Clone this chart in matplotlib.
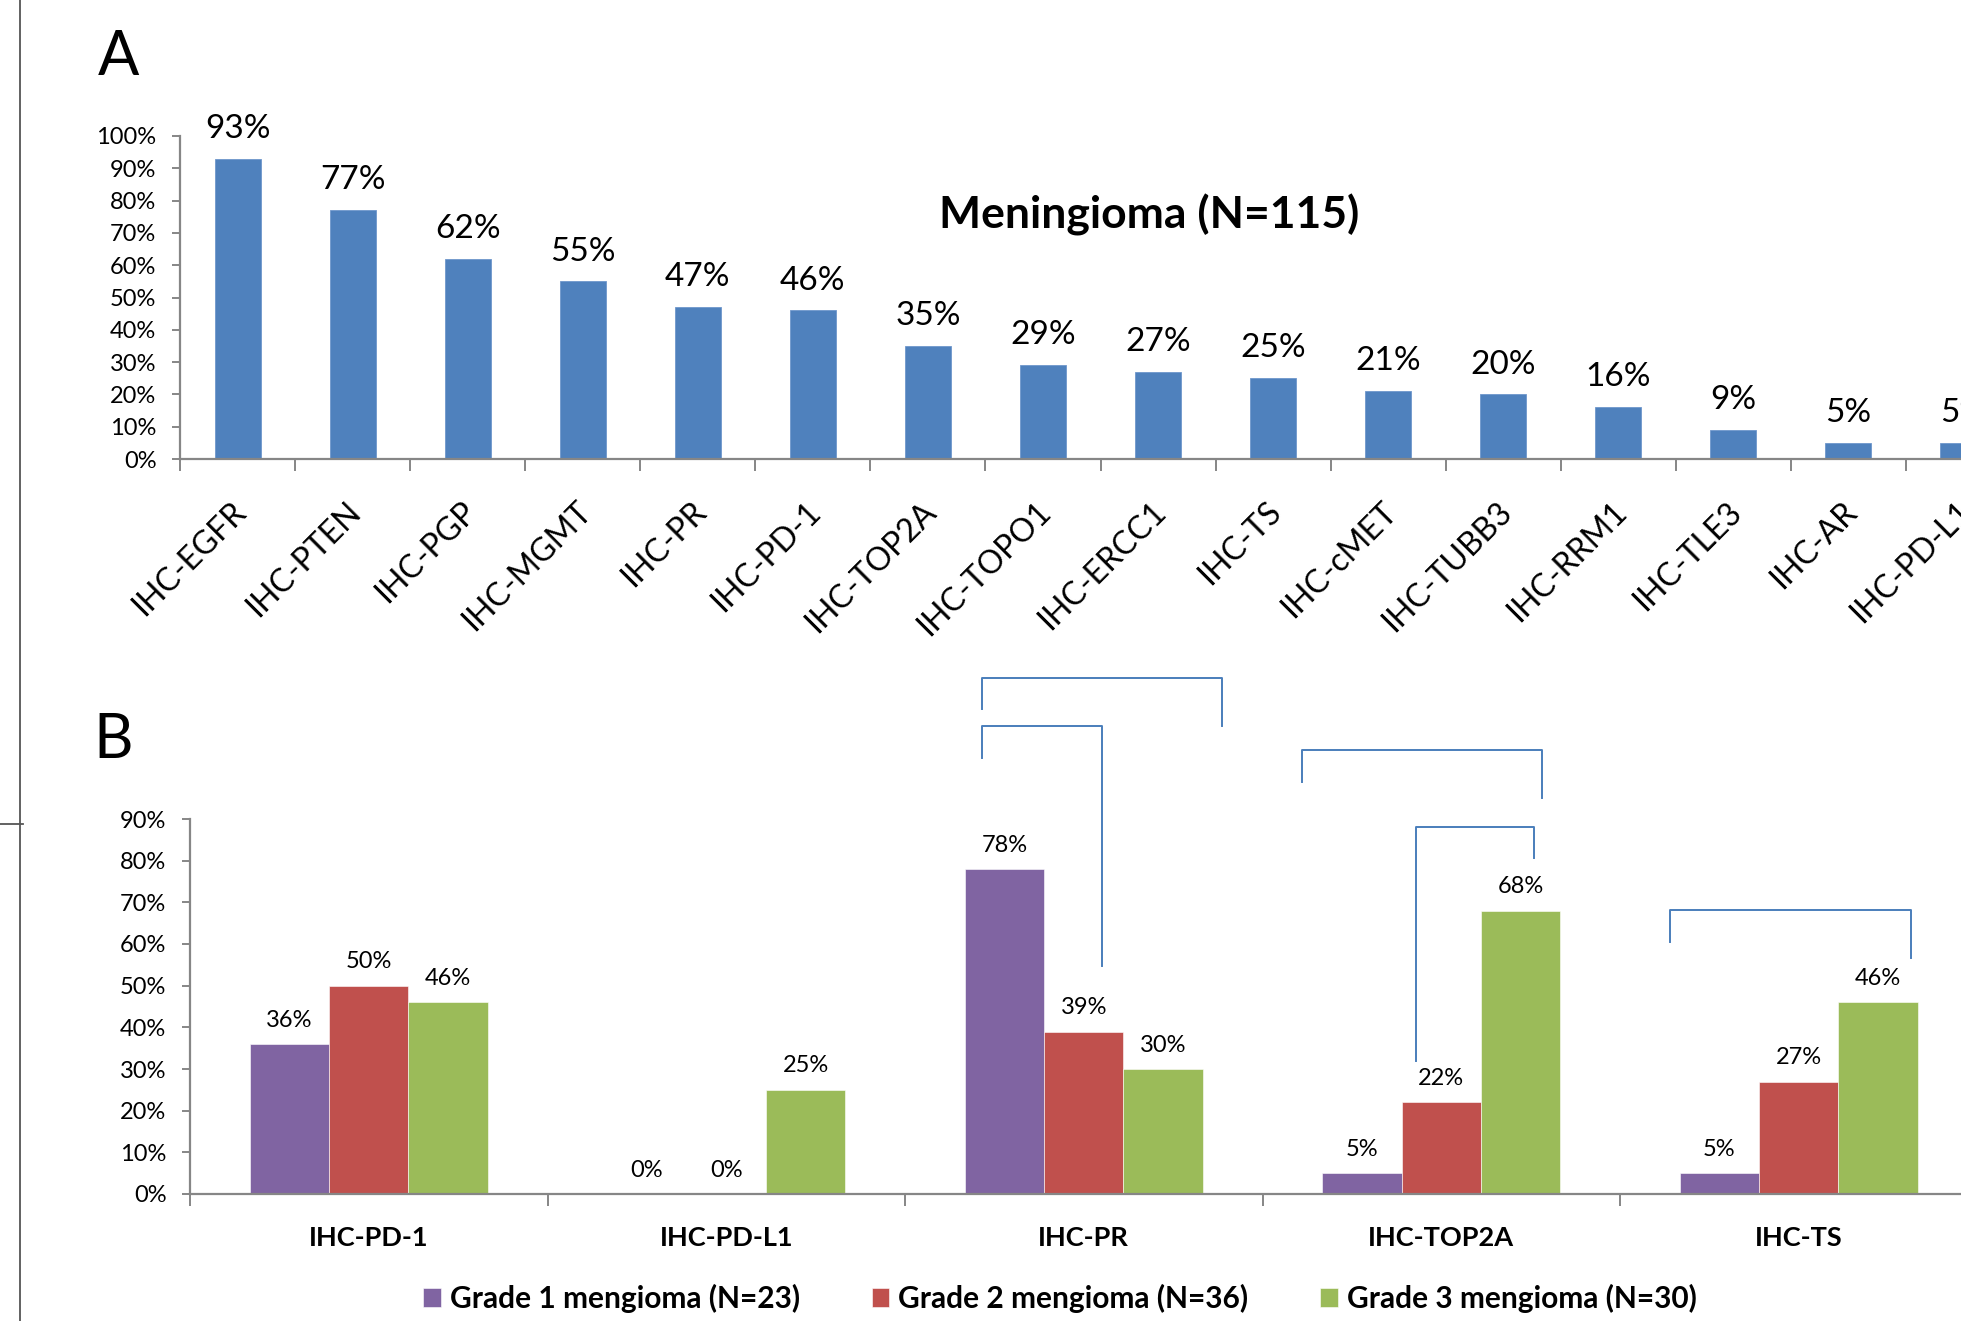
import matplotlib
matplotlib.use('Agg')
import matplotlib.pyplot as plt
from matplotlib import ticker
from matplotlib.lines import Line2D
from matplotlib.transforms import ScaledTranslation
import numpy as np

# панель A
markers_a = ['IHC-EGFR', 'IHC-PTEN', 'IHC-PGP', 'IHC-MGMT', 'IHC-PR', 'IHC-PD-1',
             'IHC-TOP2A', 'IHC-TOPO1', 'IHC-ERCC1', 'IHC-TS', 'IHC-cMET',
             'IHC-TUBB3', 'IHC-RRM1', 'IHC-TLE3', 'IHC-AR', 'IHC-PD-L1']
values_a = [0.93, 0.77, 0.62, 0.55, 0.47, 0.46, 0.35, 0.29, 0.27, 0.25,
            0.21, 0.20, 0.16, 0.09, 0.05, 0.05]
title_a = 'Meningioma (N=115)'

# панель B
markers_b = ['IHC-PD-1', 'IHC-PD-L1', 'IHC-PR', 'IHC-TOP2A', 'IHC-TS']
grade1 = [0.36, 0.0, 0.78, 0.05, 0.05]
grade2 = [0.50, 0.0, 0.39, 0.22, 0.27]
grade3 = [0.46, 0.25, 0.30, 0.68, 0.46]
grade_labels = ['Grade 1 mengioma (N=23)', 'Grade 2 mengioma (N=36)',
                'Grade 3 mengioma (N=30)']

# скобки значимости: x_left, x_right, y_top, y_left_end, y_right_end
brackets = [(1.715, 2.387, 1.238, 1.164, 1.123),
            (1.715, 2.051, 1.123, 1.046, 0.547),
            (2.611, 3.282, 1.066, 0.989, 0.950),
            (2.928, 3.259, 0.881, 0.319, 0.806),
            (3.640, 4.314, 0.682, 0.605, 0.566)]

plt.rcParams['font.family'] = ['Lato', 'DejaVu Sans']

blue = '#4F81BD'
colors_b = ['#8064A2', '#C0504D', '#9BBB59']
axis_gray = '#868686'

fig = plt.figure(figsize=(19.61, 13.21), dpi=100)

W, H = 1961, 1321


def style_axis(ax):
    for s in ('top', 'right'):
        ax.spines[s].set_visible(False)
    for s in ('left', 'bottom'):
        ax.spines[s].set_color(axis_gray)
        ax.spines[s].set_linewidth(1.6)
    ax.yaxis.set_major_formatter(ticker.PercentFormatter(1.0, decimals=0))
    ax.tick_params(axis='y', length=6, width=1.4, color=axis_gray, pad=11,
                   labelsize=17)
    ax.tick_params(axis='x', which='major', length=0)
    ax.tick_params(axis='x', which='minor', length=8.5, width=1.4,
                   color=axis_gray)


# ---- A ----
axA = fig.add_axes([180 / W, 1 - 459 / H, 1841 / W, (459 - 136) / H])
xa = np.arange(len(values_a))
axA.bar(xa, values_a, width=0.4, color=blue, edgecolor='#6f97cc', linewidth=0.6)
axA.set_xlim(-0.5, len(values_a) - 0.5)
axA.set_ylim(0, 1.0)
axA.set_yticks(np.arange(0, 1.01, 0.1))
style_axis(axA)
axA.set_xticks(xa)
axA.set_xticks(np.arange(-0.5, len(values_a), 1.0), minor=True)
axA.set_xticklabels(markers_a, rotation=45, ha='right', va='top',
                    rotation_mode='anchor', fontsize=23)
axA.tick_params(axis='x', which='major', pad=27)
for lbl in axA.get_xticklabels():
    lbl.set_transform(lbl.get_transform() + ScaledTranslation(-0.07, 0, fig.dpi_scale_trans))
for x, v in zip(xa, values_a):
    axA.annotate(f'{v:.0%}', (x, v), xytext=(0, 15), textcoords='offset points',
                 ha='center', va='baseline', fontsize=24, annotation_clip=False)

fig.text(919 / 1568, 1 - 172 / 1056, title_a, ha='center', va='center',
         fontsize=32, fontweight='bold')
fig.text(78 / 1568, 1 - 60 / 1056, 'A', fontsize=44, va='baseline')
fig.text(75 / 1568, 1 - 606 / 1056, 'B', fontsize=44, va='baseline')

# ---- B ----
axB = fig.add_axes([190 / W, 1 - 1194 / H, 1787.5 / W, (1194 - 819) / H])
xb = np.arange(len(markers_b))
bw = 0.222
handles = []
for i, (vals, c, lab) in enumerate(zip([grade1, grade2, grade3], colors_b, grade_labels)):
    pos = xb + (i - 1) * bw
    h = axB.bar(pos, vals, width=bw, color=c, label=lab, edgecolor='white',
                linewidth=0.4)
    handles.append(h)
    for x, v in zip(pos, vals):
        axB.annotate(f'{v:.0%}', (x, v), xytext=(0, 12.5), textcoords='offset points',
                     ha='center', va='baseline', fontsize=17)
axB.set_xlim(-0.5, len(markers_b) - 0.5)
axB.set_ylim(0, 0.9)
axB.set_yticks(np.arange(0, 0.91, 0.1))
style_axis(axB)
axB.set_xticks(xb)
axB.set_xticks(np.arange(-0.5, len(markers_b), 1.0), minor=True)
axB.set_xticklabels(markers_b, fontsize=19.5, fontweight='bold')
axB.tick_params(axis='x', which='major', pad=23)

for xl, xr, yt, yl, yr in brackets:
    axB.plot([xl, xl, xr, xr], [yl, yt, yt, yr], color='#4A7EBB', lw=1.4,
             clip_on=False)

fig.legend(handles=handles, loc='center', bbox_to_anchor=(847.5 / 1568, 0.017),
           ncol=3, frameon=False, prop={'weight': 'bold', 'size': 21.5},
           handlelength=0.6, handleheight=0.6, handletextpad=0.3,
           columnspacing=2.4, borderaxespad=0)

# рамка слева
fig.add_artist(Line2D([20 / W, 20 / W], [0, 1], color='#555555', lw=1.3))
fig.add_artist(Line2D([0, 23 / W], [1 - 824 / H, 1 - 824 / H], color='#555555', lw=1.3))

fig.savefig('out.png', dpi=100)
